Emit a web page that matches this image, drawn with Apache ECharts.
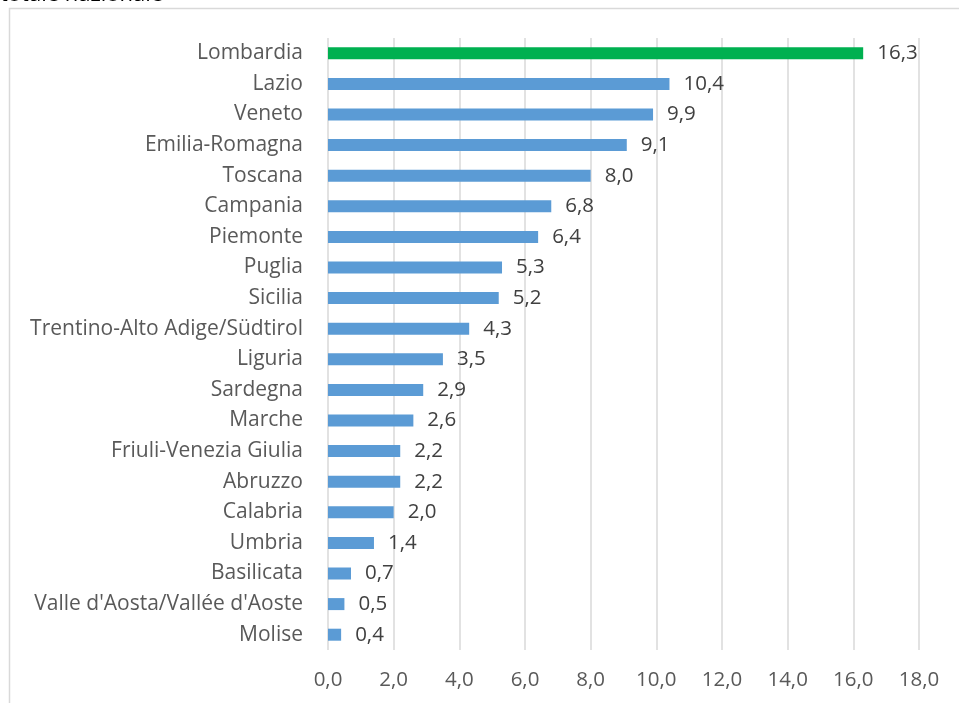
<!DOCTYPE html>
<html><head><meta charset="utf-8">
<script src="https://cdn.jsdelivr.net/npm/echarts@6/dist/echarts.min.js"></script>
<style>html,body{margin:0;padding:0;background:#fff}#c{width:959px;height:703px}</style>
</head><body><div id="c"></div>
<script>
const regions = ["Lombardia","Lazio","Veneto","Emilia-Romagna","Toscana","Campania","Piemonte","Puglia","Sicilia","Trentino-Alto Adige/Südtirol","Liguria","Sardegna","Marche","Friuli-Venezia Giulia","Abruzzo","Calabria","Umbria","Basilicata","Valle d'Aosta/Vallée d'Aoste","Molise"];
const values = [16.3,10.4,9.9,9.1,8.0,6.8,6.4,5.3,5.2,4.3,3.5,2.9,2.6,2.2,2.2,2.0,1.4,0.7,0.5,0.4];
const highlight = "Lombardia";
const titleText = "totale nazionale";
const fmt = v => v.toFixed(1).replace('.', ',');
const chart = echarts.init(document.getElementById('c'));
chart.setOption({
  animation:false,
  textStyle:{fontFamily:"Open Sans"},
  graphic:[
    {type:'rect',shape:{x:9.5,y:8.5,width:1000,height:1000},style:{fill:'none',stroke:'#d9d9d9',lineWidth:1.5}},
    {type:'text',x:0,y:-16,style:{text:titleText,font:'22px "Open Sans"',fill:'#000'}}
  ],
  grid:{left:328,right:40,top:38,bottom:53,containLabel:false},
  xAxis:{type:'value',min:0,max:18,interval:2,
    axisLabel:{formatter:fmt,color:'#595959',fontSize:20.5,margin:20},
    splitLine:{lineStyle:{color:'#d9d9d9',width:1.5}},
    axisLine:{show:false},axisTick:{show:false}},
  yAxis:{type:'category',inverse:true,data:regions,
    axisLabel:{color:'#595959',fontSize:21,margin:25},
    axisLine:{show:false},axisTick:{show:false}},
  series:[{type:'bar',barWidth:12,
    data:values.map((v,i)=>({value:v,itemStyle:{color:regions[i]===highlight?'#00B050':'#5B9BD5'}})),
    label:{show:true,position:'right',distance:14,color:'#404040',fontSize:20.5,formatter:p=>fmt(p.value)}}]
});
</script></body></html>
